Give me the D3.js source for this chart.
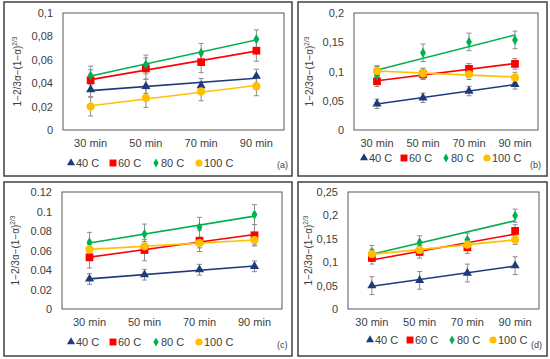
<!DOCTYPE html>
<html><head><meta charset="utf-8">
<script src="https://cdn.jsdelivr.net/npm/d3@7"></script>
<style>body{margin:0;background:#fff}svg{display:block}text{font-family:"Liberation Sans",Arial,sans-serif}</style>
</head><body><svg id="c" width="550" height="359"></svg>
<script>
const categories = ["30 min","50 min","70 min","90 min"];
const seriesNames = ["40 C","60 C","80 C","100 C"];
const seriesColors = ["#1f3a7a","#ff0000","#00b050","#ffc000"];
const panelLabels = ["(a)","(b)","(c)","(d)"];

// panel (a)
const a40 = [0.0345,0.0373,0.038,0.046];
const a60 = [0.0425,0.0526,0.058,0.0678];
const a80 = [0.0466,0.056,0.066,0.0776];
const a100 = [0.020,0.0273,0.033,0.0373];
const aErr = [0.006,0.009,0.008,0.008];
const aTicks = [0,0.02,0.04,0.06,0.08,0.1];
const aTickLabels = ["0","0,02","0,04","0,06","0,08","0,1"];
// panel (b)
const b40 = [0.0448,0.055,0.0666,0.078];
const b60 = [0.0833,0.0953,0.1045,0.113];
const b80 = [0.0936,0.132,0.1505,0.154];
const b100 = [0.101,0.0966,0.0953,0.0897];
const bErr = [0.008,0.009,0.015,0.009];
const bTicks = [0,0.05,0.1,0.15,0.2];
const bTickLabels = ["0","0,05","0,1","0,15","0,2"];
// panel (c)
const c40 = [0.0308,0.0352,0.0403,0.0438];
const c60 = [0.053,0.0605,0.070,0.0756];
const c80 = [0.0684,0.0769,0.0838,0.0968];
const c100 = [0.0612,0.0643,0.0677,0.0708];
const cErr = [0.0055,0.011,0.0102,0.005];
const cTicks = [0,0.02,0.04,0.06,0.08,0.1,0.12];
const cTickLabels = ["0","0.02","0.04","0.06","0.08","0.1","0.12"];
// panel (d)
const d40 = [0.0499,0.0613,0.0769,0.0926];
const d60 = [0.109,0.1218,0.1318,0.167];
const d80 = [0.1218,0.1425,0.148,0.1994];
const d100 = [0.1175,0.126,0.1375,0.148];
const dErr = [0.019,0.013,0.014,0.01];
const dTicks = [0,0.05,0.1,0.15,0.2,0.25];
const dTickLabels = ["0","0,05","0,1","0,15","0,2","0,25"];

const panels = [
  {series:[a40,a60,a80,a100], err:aErr, ticks:aTicks, labels:aTickLabels, max:0.1,
   box:[4,2,292,176], plot:[63,13,284,130], xLabY:148, legY:163, legX:68, legStep:[0,42,85,128], titleX:21, tagX:277, tagY:168},
  {series:[b40,b60,b80,b100], err:bErr, ticks:bTicks, labels:bTickLabels, max:0.2,
   box:[298,2,547,176], plot:[354,13,538,130], xLabY:148, legY:158, legX:361, legStep:[0,40,82,123], titleX:313, tagX:530, tagY:168},
  {series:[c40,c60,c80,c100], err:cErr, ticks:cTicks, labels:cTickLabels, max:0.12,
   box:[4,182,292,356], plot:[62,192,282,309], xLabY:327, legY:342, legX:68, legStep:[0,42,85,128], titleX:19, tagX:277, tagY:348},
  {series:[d40,d60,d80,d100], err:dErr, ticks:dTicks, labels:dTickLabels, max:0.25,
   box:[298,182,547,356], plot:[348,192,539,309], xLabY:327, legY:340, legX:367, legStep:[0,40,82,123], titleX:312, tagX:531, tagY:348}
];

const svg = d3.select("#c");
const shapes = [d3.symbolTriangle, d3.symbolSquare, d3.symbolDiamond, d3.symbolCircle];
const sizes = [36, 60, 30, 52];
const legSizes = [28, 48, 24, 40];

panels.forEach((p, pi) => {
  const g = svg.append("g");
  const [bx0,by0,bx1,by1] = p.box;
  g.append("rect").attr("x",bx0).attr("y",by0).attr("width",bx1-bx0).attr("height",by1-by0)
    .attr("fill","#fff").attr("stroke","#404040").attr("stroke-width",1.5);
  const [px0,py0,px1,py1] = p.plot;
  const x = d3.scaleBand().domain(categories).range([px0,px1]);
  const y = d3.scaleLinear().domain([0,p.max]).range([py1,py0]);
  g.append("rect").attr("x",px0).attr("y",py0).attr("width",px1-px0).attr("height",py1-py0)
    .attr("fill","none").attr("stroke","#595959").attr("stroke-width",1);

  const yAxis = d3.axisLeft(y).tickValues(p.ticks).tickFormat((d,i)=>p.labels[i]).tickSize(0).tickPadding(10);
  const ya = g.append("g").attr("transform",`translate(${px0},0)`).call(yAxis);
  ya.select(".domain").remove();
  ya.selectAll("text").attr("font-size",11).attr("fill","#404040").attr("font-family","Liberation Sans, Arial, sans-serif");

  const xAxis = d3.axisBottom(x).tickSize(0).tickPadding(0);
  const xa = g.append("g").attr("transform",`translate(0,${p.xLabY-9})`).call(xAxis);
  xa.select(".domain").remove();
  xa.selectAll("text").attr("font-size",11).attr("fill","#404040").attr("font-family","Liberation Sans, Arial, sans-serif");

  const t = g.append("text").attr("transform",`translate(${p.titleX},${(py0+py1)/2}) rotate(-90)`)
    .attr("text-anchor","middle").attr("font-size",10).attr("fill","#404040");
  t.append("tspan").text("1−2/3α−(1−α)");
  t.append("tspan").attr("dy",-4).attr("font-size",6.5).text("2/3");

  const cx = d => x(d) + x.bandwidth()/2;
  const xi = [0,1,2,3];
  p.series.forEach((vals, si) => {
    const e = p.err[si];
    vals.forEach((v,i) => {
      const X = cx(categories[i]);
      g.append("line").attr("x1",X).attr("x2",X).attr("y1",y(v+e)).attr("y2",y(v-e))
        .attr("stroke","#8c8c8c").attr("stroke-width",1);
      [v+e, v-e].forEach(w => g.append("line").attr("x1",X-2.5).attr("x2",X+2.5)
        .attr("y1",y(w)).attr("y2",y(w)).attr("stroke","#8c8c8c").attr("stroke-width",1));
    });
  });
  p.series.forEach((vals, si) => {
    const col = seriesColors[si];
    const mx = d3.mean(xi), my = d3.mean(vals);
    const slope = d3.sum(xi.map((k,i)=>(k-mx)*(vals[i]-my))) / d3.sum(xi.map(k=>(k-mx)*(k-mx)));
    const fit = k => my + slope*(k-mx);
    g.append("line").attr("x1",cx(categories[0])).attr("x2",cx(categories[3]))
      .attr("y1",y(fit(0))).attr("y2",y(fit(3))).attr("stroke",col).attr("stroke-width",1.6);
    g.selectAll(null).data(vals).enter().append("path")
      .attr("d", d3.symbol().type(shapes[si]).size(sizes[si]))
      .attr("transform",(v,i)=>`translate(${cx(categories[i])},${y(v)})`)
      .attr("fill",col);
  });

  seriesNames.forEach((n, si) => {
    const lx = p.legX + p.legStep[si];
    g.append("path").attr("d", d3.symbol().type(shapes[si]).size(legSizes[si]))
      .attr("transform",`translate(${lx+3},${p.legY})`).attr("fill",seriesColors[si]);
    g.append("text").attr("x",lx+8).attr("y",p.legY+4).attr("font-size",11).attr("fill","#404040").text(n);
  });
  g.append("text").attr("x",p.tagX).attr("y",p.tagY).attr("font-size",9).attr("fill","#404040").text(panelLabels[pi]);
});
</script></body></html>
